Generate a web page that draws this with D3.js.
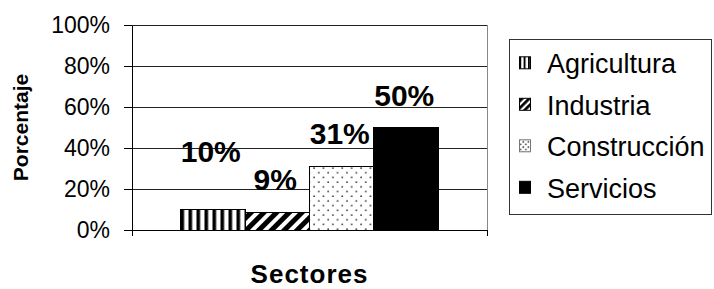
<!DOCTYPE html>
<meta charset="utf-8">
<style>

body {
  margin: 0;
  background: #fff;
}

svg {
  display: block;
  font-family: "Liberation Sans", Arial, sans-serif;
}

.axis text {
  font-size: 23px;
  fill: #000;
}

.label {
  font-size: 30px;
  font-weight: bold;
  text-anchor: middle;
}

.legend text {
  font-size: 27px;
}

</style>
<svg width="714" height="289"></svg>
<script src="https://d3js.org/d3.v7.min.js"></script>
<script>

var sectors = ["Agricultura", "Industria", "Construcción", "Servicios"];
var values = [9.8, 8.7, 31.2, 49.9];
var yTicks = [0, 20, 40, 60, 80, 100];
var categories = ["Sectores"];

var svg = d3.select("svg"),
    margin = {top: 25, left: 132},
    width = 355,
    height = 205,
    g = svg.append("g").attr("transform", "translate(" + margin.left + "," + margin.top + ")");

var defs = svg.append("defs");

// fills: vertical stripes, diagonal stripes, dots, solid
function makePatterns(suffix, k) {
  var p = defs.append("pattern")
      .attr("id", "vstripe" + suffix)
      .attr("patternUnits", "userSpaceOnUse")
      .attr("width", 8 * k).attr("height", 8 * k);
  p.append("rect").attr("width", 8 * k).attr("height", 8 * k).attr("fill", "#fff");
  p.append("rect").attr("width", 3.6 * k).attr("height", 8 * k).attr("fill", "#000");

  p = defs.append("pattern")
      .attr("id", "diag" + suffix)
      .attr("patternUnits", "userSpaceOnUse")
      .attr("width", 9 * k).attr("height", 9 * k)
      .attr("patternTransform", "rotate(45)");
  p.append("rect").attr("width", 9 * k).attr("height", 9 * k).attr("fill", "#fff");
  p.append("rect").attr("width", 5 * k).attr("height", 9 * k).attr("fill", "#000");

  p = defs.append("pattern")
      .attr("id", "dots" + suffix)
      .attr("patternUnits", "userSpaceOnUse")
      .attr("width", 9.4 * k).attr("height", 9.4 * k);
  p.append("rect").attr("width", 9.4 * k).attr("height", 9.4 * k).attr("fill", "#fff");
  p.append("circle").attr("cx", 2 * k).attr("cy", 2 * k).attr("r", 0.9).attr("fill", "#333");
  p.append("circle").attr("cx", 6.7 * k).attr("cy", 6.7 * k).attr("r", 0.9).attr("fill", "#333");
}
makePatterns("", 1);
makePatterns("-sm", 0.55);

var fills = ["vstripe", "diag", "dots", null];
function fillFor(i, suffix) {
  return fills[i] ? "url(#" + fills[i] + suffix + ")" : "#000";
}

var y = d3.scaleLinear().domain([0, 100]).range([height, 0]);

var x0 = d3.scaleBand()
    .domain(categories)
    .range([0, width])
    .paddingInner(0)
    .paddingOuter(0.188);

var x1 = d3.scaleBand()
    .domain(sectors)
    .range([0, x0.bandwidth()]);

// gridlines
g.selectAll(".grid")
  .data(yTicks.slice(1))
  .enter().append("line")
    .attr("class", "grid")
    .attr("x1", 0).attr("x2", width)
    .attr("y1", function(d) { return y(d); })
    .attr("y2", function(d) { return y(d); })
    .attr("stroke", "#222")
    .attr("stroke-width", 1)
    .attr("shape-rendering", "crispEdges");

// right border of plot area
g.append("line")
    .attr("x1", width).attr("x2", width)
    .attr("y1", 0).attr("y2", height)
    .attr("stroke", "#888")
    .attr("shape-rendering", "crispEdges");

var bars = g.append("g")
    .attr("transform", "translate(" + x0("Sectores") + ",0)");

bars.selectAll("rect")
  .data(values)
  .enter().append("rect")
    .attr("x", function(d, i) { return x1(sectors[i]); })
    .attr("y", function(d) { return y(d); })
    .attr("width", x1.bandwidth())
    .attr("height", function(d) { return height - y(d); })
    .attr("fill", function(d, i) { return fillFor(i, ""); })
    .attr("stroke", "#000")
    .attr("stroke-width", 1)
    .attr("shape-rendering", "crispEdges");

// the first label was dragged up in the original
bars.selectAll(".label")
  .data(values)
  .enter().append("text")
    .attr("class", "label")
    .attr("x", function(d, i) { return x1(sectors[i]) + x1.bandwidth() / 2 - 2; })
    .attr("y", function(d, i) { return y(d) - (i === 0 ? 48 : 22); })
    .text(function(d) { return Math.round(d) + "%"; });

var yAxis = g.append("g")
    .attr("class", "axis")
    .call(d3.axisLeft(y)
      .tickValues(yTicks)
      .tickSizeInner(8)
      .tickSizeOuter(0)
      .tickPadding(14)
      .tickFormat(function(d) { return d + "%"; }));
yAxis.selectAll("line, path").attr("stroke", "#000").attr("shape-rendering", "crispEdges");
yAxis.selectAll("text").attr("font-family", null).attr("font-size", null);

var xAxis = g.append("g")
    .attr("class", "axis")
    .attr("transform", "translate(0," + height + ")")
    .call(d3.axisBottom(d3.scaleLinear().domain([0, 1]).range([0, width]))
      .tickValues([0, 1])
      .tickSizeInner(6)
      .tickSizeOuter(0)
      .tickFormat(""));
xAxis.selectAll("line, path").attr("stroke", "#000").attr("shape-rendering", "crispEdges");

svg.append("text")
    .attr("transform", "translate(28," + (margin.top + height / 2) + ") rotate(-90)")
    .attr("text-anchor", "middle")
    .attr("font-size", 21)
    .attr("font-weight", "bold")
    .text("Porcentaje");

svg.append("text")
    .attr("x", margin.left + width / 2)
    .attr("y", 283)
    .attr("text-anchor", "middle")
    .attr("font-size", 26)
    .attr("font-weight", "bold")
    .attr("letter-spacing", 1)
    .text(categories[0]);

var legend = svg.append("g").attr("class", "legend");

legend.append("rect")
    .attr("x", 509.5).attr("y", 39.5)
    .attr("width", 202).attr("height", 175)
    .attr("fill", "#fff")
    .attr("stroke", "#333");

var item = legend.selectAll(".item")
  .data(sectors)
  .enter().append("g")
    .attr("class", "item")
    .attr("transform", function(d, i) { return "translate(0," + (73.3 + i * 41.5) + ")"; });

item.append("rect")
    .attr("x", 519.5).attr("y", -16.5)
    .attr("width", 11).attr("height", 12)
    .attr("fill", function(d, i) { return fillFor(i, "-sm"); })
    .attr("stroke", function(d, i) { return i === 2 ? "#777" : "#000"; });

item.append("text")
    .attr("x", 547)
    .text(function(d) { return d; });

</script>
